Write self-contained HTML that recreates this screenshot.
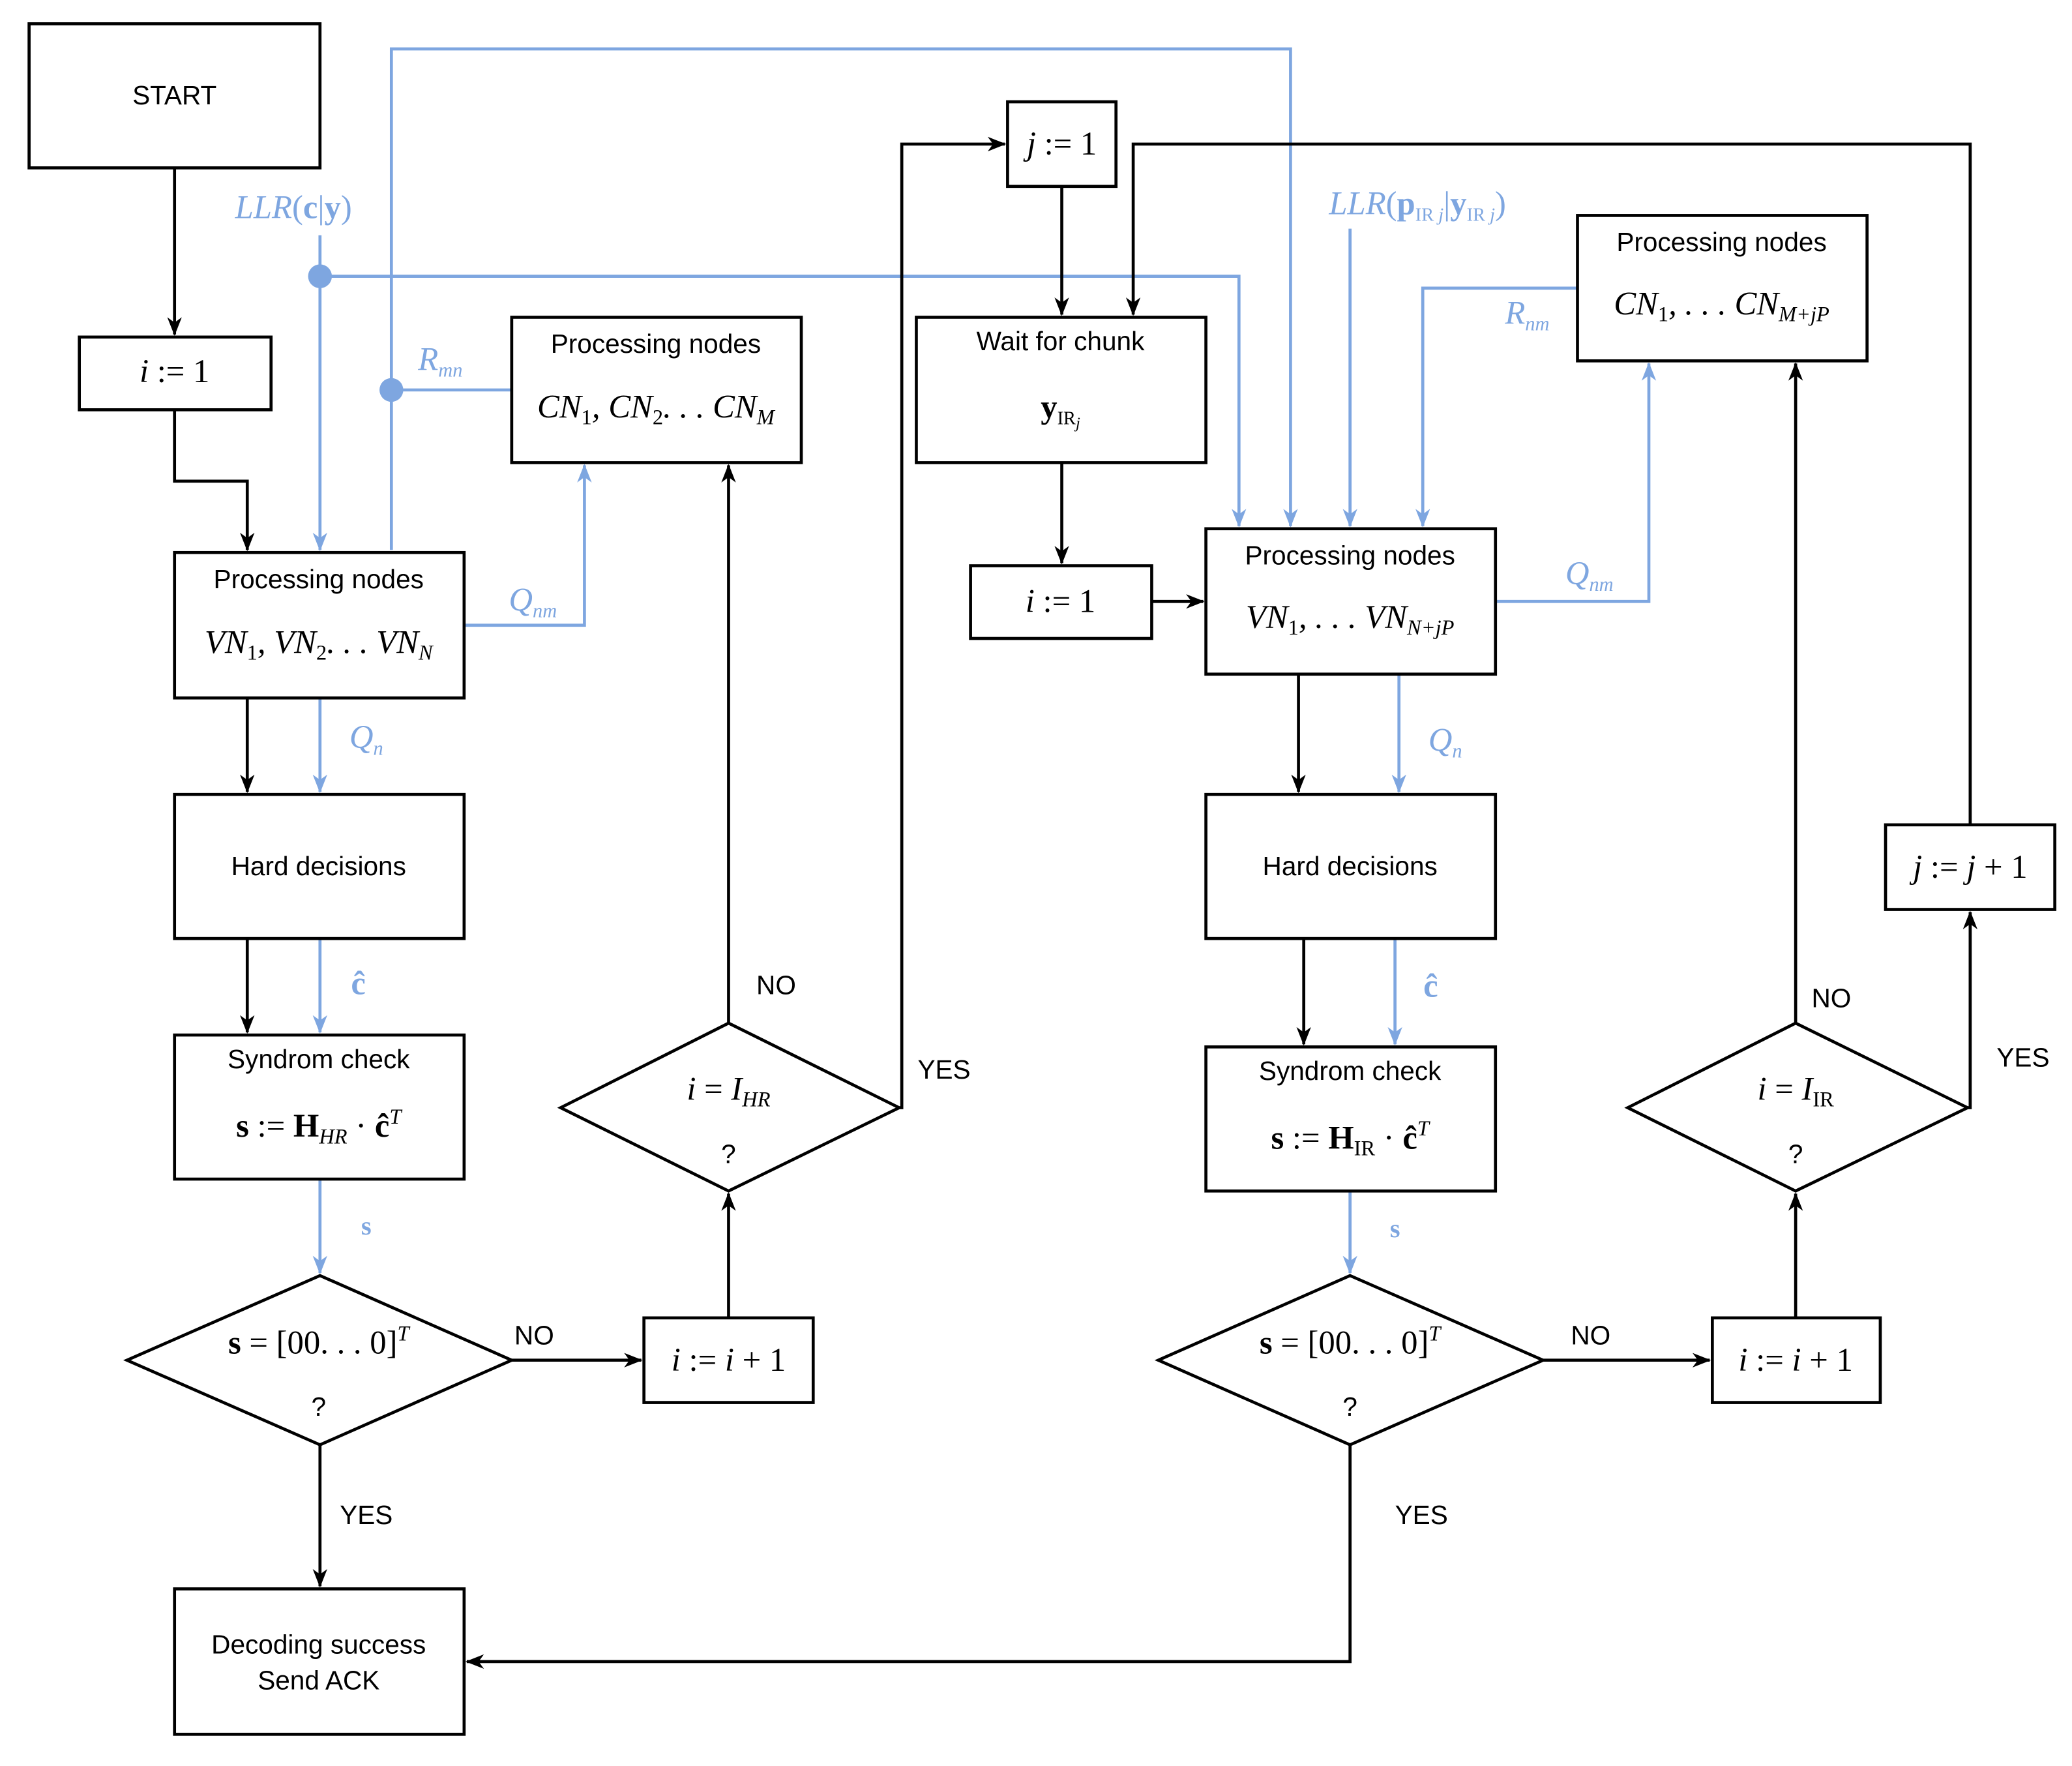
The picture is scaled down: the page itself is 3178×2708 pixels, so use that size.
<!DOCTYPE html>
<html><head><meta charset="utf-8"><style>
html,body{margin:0;padding:0;background:#fff;}
svg{display:block;}
.t{font-family:"Liberation Sans",sans-serif;font-size:20px;fill:#000;}
.m{font-family:"Liberation Serif",serif;font-style:italic;font-size:25px;fill:#000;}
.b{fill:#7EA6E0;}
</style></head><body>
<svg width="3178" height="2708" viewBox="0 0 1567 1336" preserveAspectRatio="none" xmlns="http://www.w3.org/2000/svg">
<defs>
<marker id="ak" markerWidth="14" markerHeight="14" refX="13" refY="7" orient="auto" markerUnits="userSpaceOnUse"><path d="M0,1.5 L14,7 L0,12.5 L4,7 z" fill="#000"/></marker>
<marker id="ab" markerWidth="14" markerHeight="14" refX="13" refY="7" orient="auto" markerUnits="userSpaceOnUse"><path d="M0,1.5 L14,7 L0,12.5 L4,7 z" fill="#7EA6E0"/></marker>
</defs>
<g fill="none" stroke="#7EA6E0" stroke-width="2.3">
<path d="M242,178 V416" marker-end="url(#ab)"/>
<path d="M242,209 H937 V398" marker-end="url(#ab)"/>
<path d="M296,416 V37 H976 V398" marker-end="url(#ab)"/>
<path d="M296,295 H387"/>
<path d="M351,473 H442 V352" marker-end="url(#ab)"/>
<path d="M242,528 V599" marker-end="url(#ab)"/>
<path d="M242,710 V781" marker-end="url(#ab)"/>
<path d="M242,892 V963" marker-end="url(#ab)"/>
<path d="M1021,173 V398" marker-end="url(#ab)"/>
<path d="M1193,218 H1076 V398" marker-end="url(#ab)"/>
<path d="M1131,455 H1247 V275" marker-end="url(#ab)"/>
<path d="M1058,510 V599" marker-end="url(#ab)"/>
<path d="M1055,710 V790" marker-end="url(#ab)"/>
<path d="M1021,901 V963" marker-end="url(#ab)"/>
</g>
<circle cx="242" cy="209" r="9" fill="#7EA6E0"/>
<circle cx="296" cy="295" r="9" fill="#7EA6E0"/>
<g fill="none" stroke="#000" stroke-width="2.3">
<path d="M132,127 V253" marker-end="url(#ak)"/>
<path d="M132,310 V364 H187 V416" marker-end="url(#ak)"/>
<path d="M187,528 V599" marker-end="url(#ak)"/>
<path d="M187,710 V781" marker-end="url(#ak)"/>
<path d="M387,1029 H485" marker-end="url(#ak)"/>
<path d="M551,997 V903" marker-end="url(#ak)"/>
<path d="M551,774 V352" marker-end="url(#ak)"/>
<path d="M680,838 H682 V109 H760" marker-end="url(#ak)"/>
<path d="M803,141 V238" marker-end="url(#ak)"/>
<path d="M803,350 V426" marker-end="url(#ak)"/>
<path d="M871,455 H910" marker-end="url(#ak)"/>
<path d="M982,510 V599" marker-end="url(#ak)"/>
<path d="M986,710 V790" marker-end="url(#ak)"/>
<path d="M1167,1029 H1293" marker-end="url(#ak)"/>
<path d="M1358,997 V903" marker-end="url(#ak)"/>
<path d="M1358,774 V275" marker-end="url(#ak)"/>
<path d="M1488,838 H1490 V690" marker-end="url(#ak)"/>
<path d="M1490,624 V109 H857 V238" marker-end="url(#ak)"/>
<path d="M1021,1093 V1257 H353" marker-end="url(#ak)"/>
<path d="M242,1093 V1200" marker-end="url(#ak)"/>
<rect x="22" y="18" width="220" height="109"/>
<rect x="60" y="255" width="145" height="55"/>
<rect x="132" y="418" width="219" height="110"/>
<rect x="387" y="240" width="219" height="110"/>
<rect x="132" y="601" width="219" height="109"/>
<rect x="132" y="783" width="219" height="109"/>
<polygon points="96,1029 242,965 387,1029 242,1093"/>
<rect x="487" y="997" width="128" height="64"/>
<polygon points="424,838 551,774 680,838 551,901"/>
<rect x="762" y="77" width="82" height="64"/>
<rect x="693" y="240" width="219" height="110"/>
<rect x="734" y="428" width="137" height="55"/>
<rect x="912" y="400" width="219" height="110"/>
<rect x="1193" y="163" width="219" height="110"/>
<rect x="912" y="601" width="219" height="109"/>
<rect x="912" y="792" width="219" height="109"/>
<polygon points="876,1029 1021,965 1167,1029 1021,1093"/>
<rect x="1295" y="997" width="127" height="64"/>
<polygon points="1231,838 1358,774 1488,838 1358,901"/>
<rect x="1426" y="624" width="128" height="64"/>
<rect x="132" y="1202" width="219" height="110"/>
</g>
<g class="t" text-anchor="middle">
<text x="132" y="79">START</text>
<text x="241" y="445">Processing nodes</text>
<text x="496" y="267">Processing nodes</text>
<text x="241" y="662">Hard decisions</text>
<text x="241" y="808">Syndrom check</text>
<text x="802" y="265">Wait for chunk</text>
<text x="1021" y="427">Processing nodes</text>
<text x="1302" y="190">Processing nodes</text>
<text x="1021" y="662">Hard decisions</text>
<text x="1021" y="817">Syndrom check</text>
<text x="241" y="1251">Decoding success</text>
<text x="241" y="1278">Send ACK</text>
<text x="241" y="1071">?</text>
<text x="551" y="880">?</text>
<text x="1021" y="1071">?</text>
<text x="1358" y="880">?</text>
<text x="404" y="1017">NO</text>
<text x="1203" y="1017">NO</text>
<text x="587" y="752">NO</text>
<text x="1385" y="762">NO</text>
<text x="714" y="816">YES</text>
<text x="1530" y="807">YES</text>
<text x="277" y="1153">YES</text>
<text x="1075" y="1153">YES</text>
</g>
<g class="m" text-anchor="middle">
<text x="132" y="289">i <tspan font-style="normal">:= 1</tspan></text>
<text x="241" y="494">VN<tspan font-size="16" dy="5" font-style="normal">1</tspan><tspan dy="-5">, VN</tspan><tspan font-size="16" dy="5" font-style="normal">2</tspan><tspan dy="-5">. . . VN</tspan><tspan font-size="16" dy="5">N</tspan></text>
<text x="496" y="316">CN<tspan font-size="16" dy="5" font-style="normal">1</tspan><tspan dy="-5">, CN</tspan><tspan font-size="16" dy="5" font-style="normal">2</tspan><tspan dy="-5">. . . CN</tspan><tspan font-size="16" dy="5">M</tspan></text>
<text x="241" y="860"><tspan font-weight="bold" font-style="normal">s</tspan><tspan font-style="normal"> := </tspan><tspan font-weight="bold" font-style="normal">H</tspan><tspan font-size="16" dy="5">HR</tspan><tspan dy="-5" font-style="normal"> · </tspan><tspan font-weight="bold" font-style="normal">ĉ</tspan><tspan font-size="16" dy="-10">T</tspan></text>
<text x="241" y="1024"><tspan font-weight="bold" font-style="normal">s</tspan><tspan font-style="normal"> = [00. . . 0]</tspan><tspan font-size="16" dy="-10">T</tspan></text>
<text x="551" y="1037">i <tspan font-style="normal">:= </tspan>i<tspan font-style="normal"> + 1</tspan></text>
<text x="551" y="832">i <tspan font-style="normal">= </tspan>I<tspan font-size="16" dy="5">HR</tspan></text>
<text x="803" y="117">j <tspan font-style="normal">:= 1</tspan></text>
<text x="802" y="316"><tspan font-weight="bold" font-style="normal">y</tspan><tspan font-size="14" dy="5" font-style="normal">IR</tspan><tspan font-size="12" dy="3">j</tspan></text>
<text x="802" y="463">i <tspan font-style="normal">:= 1</tspan></text>
<text x="1021" y="475">VN<tspan font-size="16" dy="5" font-style="normal">1</tspan><tspan dy="-5">, . . . VN</tspan><tspan font-size="16" dy="5">N+jP</tspan></text>
<text x="1302" y="238">CN<tspan font-size="16" dy="5" font-style="normal">1</tspan><tspan dy="-5">, . . . CN</tspan><tspan font-size="16" dy="5">M+jP</tspan></text>
<text x="1021" y="869"><tspan font-weight="bold" font-style="normal">s</tspan><tspan font-style="normal"> := </tspan><tspan font-weight="bold" font-style="normal">H</tspan><tspan font-size="16" dy="5" font-style="normal">IR</tspan><tspan dy="-5" font-style="normal"> · </tspan><tspan font-weight="bold" font-style="normal">ĉ</tspan><tspan font-size="16" dy="-10">T</tspan></text>
<text x="1021" y="1024"><tspan font-weight="bold" font-style="normal">s</tspan><tspan font-style="normal"> = [00. . . 0]</tspan><tspan font-size="16" dy="-10">T</tspan></text>
<text x="1358" y="1037">i <tspan font-style="normal">:= </tspan>i<tspan font-style="normal"> + 1</tspan></text>
<text x="1358" y="832">i <tspan font-style="normal">= </tspan>I<tspan font-size="16" dy="5" font-style="normal">IR</tspan></text>
<text x="1490" y="664">j <tspan font-style="normal">:= </tspan>j<tspan font-style="normal"> + 1</tspan></text>
</g>
<g class="m b" text-anchor="middle">
<text x="222" y="165">LLR<tspan font-style="normal">(</tspan><tspan font-weight="bold" font-style="normal">c</tspan><tspan font-style="normal">|</tspan><tspan font-weight="bold" font-style="normal">y</tspan><tspan font-style="normal">)</tspan></text>
<text x="1072" y="162">LLR<tspan font-style="normal">(</tspan><tspan font-weight="bold" font-style="normal">p</tspan><tspan font-size="14" dy="5" font-style="normal">IR </tspan><tspan font-size="14">j</tspan><tspan dy="-5" font-style="normal">|</tspan><tspan font-weight="bold" font-style="normal">y</tspan><tspan font-size="14" dy="5" font-style="normal">IR </tspan><tspan font-size="14">j</tspan><tspan dy="-5" font-style="normal">)</tspan></text>
<text x="333" y="280">R<tspan font-size="15" dy="5">mn</tspan></text>
<text x="403" y="462">Q<tspan font-size="15" dy="5">nm</tspan></text>
<text x="1155" y="245">R<tspan font-size="15" dy="5">nm</tspan></text>
<text x="1202" y="442">Q<tspan font-size="15" dy="5">nm</tspan></text>
<text x="277" y="566">Q<tspan font-size="15" dy="5">n</tspan></text>
<text x="1093" y="568">Q<tspan font-size="15" dy="5">n</tspan></text>
<text x="271" y="752" font-weight="bold" font-style="normal">ĉ</text>
<text x="1082" y="754" font-weight="bold" font-style="normal">ĉ</text>
<text x="277" y="934" font-weight="bold" font-style="normal" font-size="20">s</text>
<text x="1055" y="936" font-weight="bold" font-style="normal" font-size="20">s</text>
</g>
</svg>
</body></html>
